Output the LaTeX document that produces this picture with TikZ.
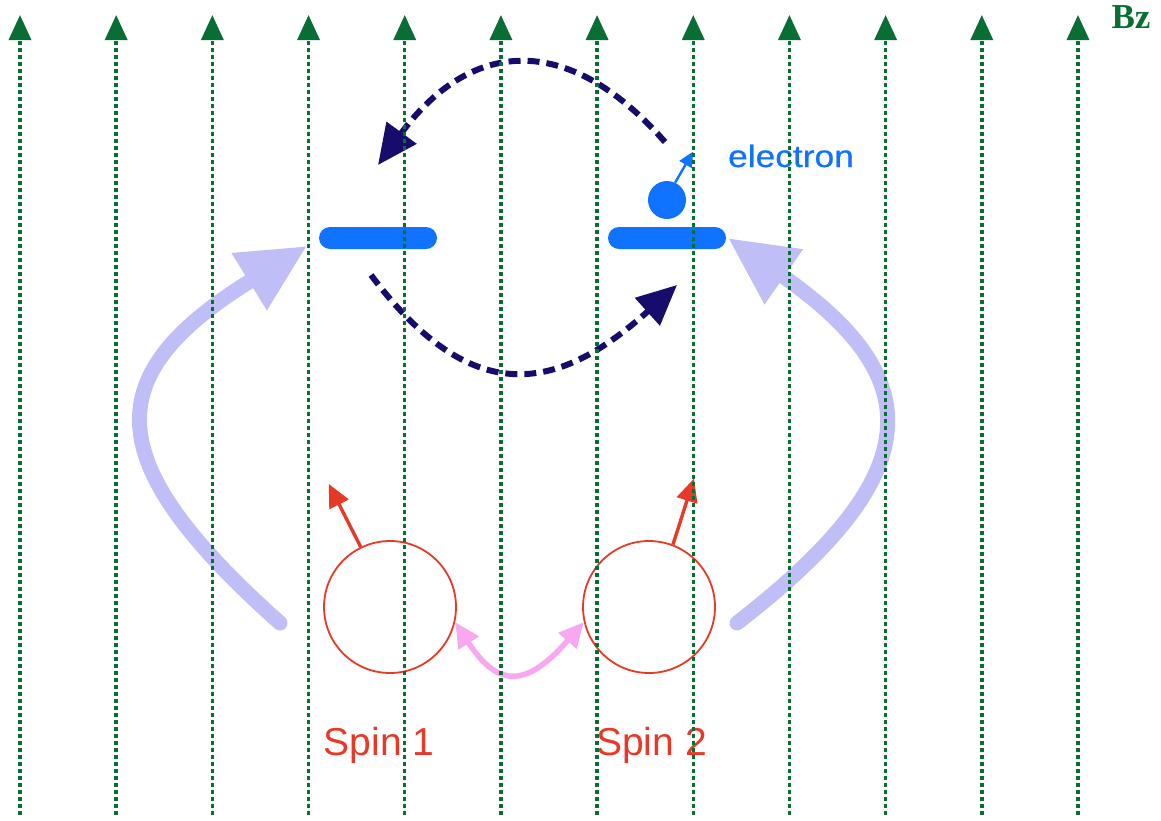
\documentclass[tikz,border=0pt]{standalone}
\usepackage{fontspec}
\setmainfont{Liberation Sans}
\newfontfamily\bzfont{Liberation Serif}
\newfontfamily\elfont[FakeBold=0.6]{Liberation Sans}
\usetikzlibrary{arrows.meta}
\definecolor{fgreen}{RGB}{8,110,52}
\definecolor{eblue}{RGB}{15,115,255}
\definecolor{navy}{RGB}{22,12,108}
\definecolor{lav}{RGB}{192,190,246}
\definecolor{spinred}{RGB}{232,57,40}
\definecolor{pinkc}{RGB}{248,168,240}
\tikzset{
  fieldline/.style={fgreen, line width=3.4pt, dash pattern=on 4.5pt off 2.5pt, -{Triangle[length=25pt,width=22pt]}},
  levelbar/.style={rectangle, fill=eblue, minimum width=118pt, minimum height=22pt, rounded corners=11pt, inner sep=0pt},
  electronball/.style={circle, fill=eblue, minimum size=38pt, inner sep=0pt},
  spincircle/.style={circle, draw=spinred, line width=1.8pt, minimum size=132pt, inner sep=0pt},
  spinarrow/.style={spinred, line width=3.4pt, -{Triangle[length=23pt,width=21pt]}},
  hop/.style={navy, line width=6pt, dash pattern=on 12pt off 7pt, -{Triangle[length=40pt,width=36pt]}},
  pump/.style={lav, line width=15pt, line cap=round, -{Triangle[length=68pt,width=63pt]}},
  couple/.style={pinkc, line width=5.5pt, {Triangle[length=25pt,width=23pt]}-{Triangle[length=25pt,width=23pt]}},
  spinlabel/.style={text=spinred, font=\fontsize{39}{44}\selectfont, anchor=base, inner sep=0pt}
}
\begin{document}
\begin{tikzpicture}[x=1pt,y=-1pt]
\useasboundingbox (0,0) rectangle (1161,820);

% energy levels and electron
\node[levelbar] (L1) at (378,238) {};
\node[levelbar] (L2) at (667,238) {};
\node[electronball] (e) at (667,200) {};
\draw[eblue, line width=2.4pt, -{Triangle[length=15pt,width=14pt]}] (e.65) -- ++(18,-31);
\node[text=eblue, anchor=base, inner sep=0pt] (elab) at (791,167) {\scalebox{1.14}[1]{\elfont\fontsize{31}{36}\selectfont electron}};

% spins
\node[spincircle] (s1) at (390,607) {};
\node[spincircle] (s2) at (649,607) {};
\draw[spinarrow] (s1.116) -- ++(-32,-63);
\draw[spinarrow] (s2.69) -- ++(21,-66);
\node[spinlabel] (t1) at (379,755) {Spin 1};
\node[spinlabel] (t2) at (651.5,755) {Spin 2};

% coupling
\draw[couple] (s1.-13) .. controls (499,690) and (528,686) .. (s2.193);

% pumping arrows
\coordinate (pl0) at (280,623);
\coordinate (pl1) at (307,246);
\coordinate (pr0) at (737,623);
\coordinate (pr1) at (728,238);
\draw[pump] (pl0) .. controls (97,460) and (98,375) .. (pl1);
\draw[pump] (pr0) .. controls (931,473) and (929,378) .. (pr1);

% hopping arrows
\coordinate (h0) at (665,142);
\coordinate (h1) at (378,165);
\coordinate (g0) at (371,275);
\coordinate (g1) at (677,285);
\draw[hop] (h0) .. controls (565,28) and (468,42) .. (h1);
\draw[hop] (g0) .. controls (470,407) and (555,395) .. (g1);

% field lines
\foreach \i in {0,...,11}{
  \pgfmathsetmacro\xx{20+96.18*\i}
  \coordinate (gb\i) at (\xx,815);
  \coordinate (gt\i) at (\xx,15);
  \draw[fieldline] (gb\i) -- (gt\i);
}
\node[text=fgreen, anchor=base, inner sep=0pt] (bz) at (1131,28) {\bzfont\bfseries\fontsize{35}{40}\selectfont Bz};
\end{tikzpicture}
\end{document}
